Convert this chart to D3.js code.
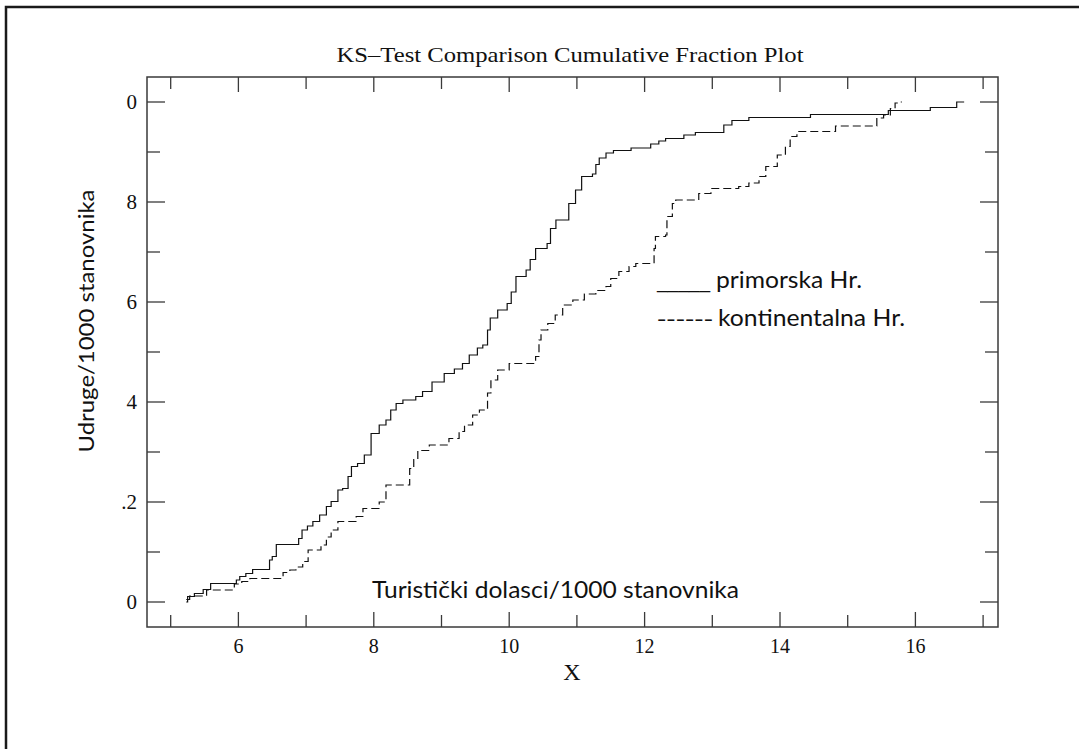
<!DOCTYPE html>
<html>
<head>
<meta charset="utf-8">
<script src="https://cdn.jsdelivr.net/npm/d3@7"></script>
<style>
	body { margin: 0; background: #fff; }
	#chart { display: block; }
	.frame { stroke: #1a1a1a; stroke-width: 2.5; fill: none; }
	.box { stroke: #3a3a3a; stroke-width: 1.5; fill: none; }
	.tick-line { stroke: #3a3a3a; stroke-width: 1.3; }
	.serif { font-family: "Liberation Serif", "DejaVu Serif", serif; fill: #111; }
	.sans { font-family: Lato, "Open Sans", sans-serif; fill: #111; }
	.line { fill: none; stroke: #111; stroke-width: 1.2; }
</style>
</head>
<body>
<svg id="chart" width="1079" height="749"></svg>
<script>

// step points of the two cumulative curves (x value, cumulative fraction)
var primorskaX = [5.23, 5.25, 5.35, 5.48, 5.59, 5.97, 6.02, 6.11, 6.21, 6.46, 6.50, 6.56, 6.89, 6.94, 7.02, 7.10,
	7.20, 7.30, 7.37, 7.47, 7.54, 7.62, 7.67, 7.76, 7.86, 7.96, 8.08, 8.18, 8.25, 8.33, 8.43, 8.62,
	8.72, 8.86, 9.04, 9.19, 9.31, 9.41, 9.53, 9.61, 9.68, 9.72, 9.83, 9.97, 10.03, 10.10, 10.25, 10.31,
	10.39, 10.56, 10.61, 10.69, 10.88, 10.98, 11.07, 11.23, 11.28, 11.33, 11.43, 11.54, 11.80, 12.09,
	12.21, 12.31, 12.58, 12.75, 13.17, 13.29, 13.54, 14.45, 15.60, 16.22, 16.61, 16.72];
var primorskaY = [0, 0.011, 0.017, 0.025, 0.037, 0.044, 0.051, 0.057, 0.065, 0.084, 0.091, 0.115, 0.127, 0.144, 0.152, 0.161,
	0.174, 0.191, 0.201, 0.224, 0.227, 0.251, 0.271, 0.277, 0.294, 0.337, 0.354, 0.364, 0.384, 0.397, 0.404, 0.411,
	0.421, 0.44, 0.457, 0.466, 0.477, 0.494, 0.508, 0.514, 0.544, 0.568, 0.584, 0.597, 0.62, 0.651, 0.664, 0.685,
	0.707, 0.717, 0.747, 0.764, 0.797, 0.824, 0.851, 0.856, 0.875, 0.888, 0.898, 0.903, 0.908, 0.916,
	0.922, 0.927, 0.934, 0.939, 0.954, 0.963, 0.969, 0.975, 0.983, 0.989, 1.0, 1.0];

var kontinentalnaX = [5.23, 5.28, 5.53, 5.94, 6.05, 6.17, 6.66, 6.76, 6.85, 6.95, 7.03, 7.22, 7.30, 7.37, 7.47, 7.74,
	7.84, 8.08, 8.18, 8.53, 8.59, 8.65, 8.82, 9.11, 9.26, 9.34, 9.46, 9.56, 9.68, 9.73, 9.83, 10.00,
	10.39, 10.44, 10.47, 10.57, 10.68, 10.79, 10.94, 11.11, 11.28, 11.43, 11.50, 11.62, 11.77, 11.87,
	12.14, 12.16, 12.31, 12.33, 12.41, 12.46, 12.80, 12.98, 13.39, 13.54, 13.69, 13.79, 13.96, 14.08,
	14.15, 14.25, 14.82, 15.43, 15.53, 15.63, 15.70, 15.74, 15.80];
var kontinentalnaY = [0.005, 0.012, 0.024, 0.036, 0.041, 0.047, 0.059, 0.064, 0.07, 0.081, 0.104, 0.114, 0.13, 0.144, 0.161, 0.171,
	0.187, 0.2, 0.234, 0.267, 0.285, 0.303, 0.314, 0.327, 0.341, 0.354, 0.374, 0.384, 0.418, 0.444, 0.464, 0.477,
	0.491, 0.524, 0.544, 0.557, 0.574, 0.594, 0.604, 0.616, 0.623, 0.631, 0.647, 0.661, 0.671, 0.677,
	0.707, 0.731, 0.734, 0.771, 0.797, 0.804, 0.817, 0.827, 0.831, 0.838, 0.851, 0.871, 0.894, 0.911,
	0.931, 0.941, 0.952, 0.968, 0.974, 0.987, 0.998, 1.0, 1.0];

var xTickValues = [5, 6, 7, 8, 9, 10, 11, 12, 13, 14, 15, 16, 17];
var xTickLabels = ["6", "8", "10", "12", "14", "16"];
var yTickValues = [0, 0.1, 0.2, 0.3, 0.4, 0.5, 0.6, 0.7, 0.8, 0.9, 1.0];
var yTickLabels = ["0", ".2", "4", "6", "8", "0"];

var titleText = "KS\u2013Test Comparison Cumulative Fraction Plot";
var xTitle = "X";
var yTitle = "Udruge/1000 stanovnika";
var noteText = "Turisti\u010dki dolasci/1000 stanovnika";
var legendMarks = ["_____", "------"];
var legendLabels = ["primorska Hr.", "kontinentalna Hr."];

var box = { left: 147, top: 77, right: 998, bottom: 627 };

var xScale = d3.scaleLinear().domain([4.65, 17.22]).range([box.left, box.right]);
var yScale = d3.scaleLinear().domain([-0.05, 1.05]).range([box.bottom, box.top]);

var svg = d3.select("#chart");

// outer frame (only top and left edges are visible)
svg.append("path")
	.attr("class", "frame")
	.attr("d", "M6,760 L6,7 L1090,7");

svg.append("rect")
	.attr("class", "box")
	.attr("x", box.left)
	.attr("y", box.top)
	.attr("width", box.right - box.left)
	.attr("height", box.bottom - box.top);

// inward ticks on all four sides
xTickValues.forEach(function(v) {
	var len = (v % 2 === 0) ? 15 : 12;
	svg.append("line").attr("class", "tick-line")
		.attr("x1", xScale(v)).attr("x2", xScale(v))
		.attr("y1", box.bottom).attr("y2", box.bottom - len);
	svg.append("line").attr("class", "tick-line")
		.attr("x1", xScale(v)).attr("x2", xScale(v))
		.attr("y1", box.top).attr("y2", box.top + len);
});

yTickValues.forEach(function(v, i) {
	var len = (i % 2 === 0) ? 18 : 13;
	svg.append("line").attr("class", "tick-line")
		.attr("x1", box.left).attr("x2", box.left + len)
		.attr("y1", yScale(v)).attr("y2", yScale(v));
	svg.append("line").attr("class", "tick-line")
		.attr("x1", box.right).attr("x2", box.right - len)
		.attr("y1", yScale(v)).attr("y2", yScale(v));
});

svg.selectAll(".xlab")
	.data(xTickLabels)
	.enter()
	.append("text")
	.attr("class", "xlab serif")
	.attr("x", function(d) { return xScale(+d); })
	.attr("y", 653)
	.attr("text-anchor", "middle")
	.attr("font-size", 20)
	.text(function(d) { return d; });

svg.selectAll(".ylab")
	.data(yTickLabels)
	.enter()
	.append("text")
	.attr("class", "ylab serif")
	.attr("x", 137)
	.attr("y", function(d, i) { return yScale(i * 0.2) + 7; })
	.attr("text-anchor", "end")
	.attr("font-size", 21)
	.text(function(d) { return d; });

svg.append("text")
	.attr("class", "serif")
	.attr("x", 570)
	.attr("y", 62)
	.attr("text-anchor", "middle")
	.attr("font-size", 21)
	.attr("textLength", 467)
	.attr("lengthAdjust", "spacingAndGlyphs")
	.text(titleText);

svg.append("text")
	.attr("class", "serif")
	.attr("x", 572)
	.attr("y", 680)
	.attr("text-anchor", "middle")
	.attr("font-size", 24)
	.text(xTitle);

svg.append("text")
	.attr("class", "sans")
	.attr("transform", "translate(94,321) rotate(-90)")
	.attr("text-anchor", "middle")
	.attr("font-size", 22)
	.attr("textLength", 263)
	.attr("lengthAdjust", "spacingAndGlyphs")
	.text(yTitle);

svg.append("text")
	.attr("class", "sans")
	.attr("x", 372)
	.attr("y", 598)
	.attr("font-size", 23)
	.attr("textLength", 367)
	.attr("lengthAdjust", "spacingAndGlyphs")
	.text(noteText);

// legend: the line samples are typed characters, as in the original
var legendY = [288, 326];
var legendMarkW = [53, 56];
var legendTextX = [716, 718];
var legendTextW = [146, 187];

var legend = svg.selectAll(".legend")
	.data(legendLabels)
	.enter()
	.append("g")
	.attr("class", "legend");

legend.append("text")
	.attr("x", 657)
	.attr("y", function(d, i) { return legendY[i]; })
	.attr("font-family", "DejaVu Sans, sans-serif")
	.attr("font-size", 20)
	.attr("fill", "#111")
	.attr("textLength", function(d, i) { return legendMarkW[i]; })
	.attr("lengthAdjust", "spacingAndGlyphs")
	.text(function(d, i) { return legendMarks[i]; });

legend.append("text")
	.attr("class", "sans")
	.attr("x", function(d, i) { return legendTextX[i]; })
	.attr("y", function(d, i) { return legendY[i]; })
	.attr("font-size", 23)
	.attr("textLength", function(d, i) { return legendTextW[i]; })
	.attr("lengthAdjust", "spacingAndGlyphs")
	.text(function(d) { return d; });

var line = d3.line()
	.x(function(d) { return xScale(d[0]); })
	.y(function(d) { return yScale(d[1]); })
	.curve(d3.curveStepAfter);

svg.append("path")
	.datum(d3.zip(primorskaX, primorskaY))
	.attr("class", "line")
	.attr("d", line);

svg.append("path")
	.datum(d3.zip(kontinentalnaX, kontinentalnaY))
	.attr("class", "line")
	.attr("stroke-dasharray", "8,4")
	.attr("d", line);

</script>
</body>
</html>
